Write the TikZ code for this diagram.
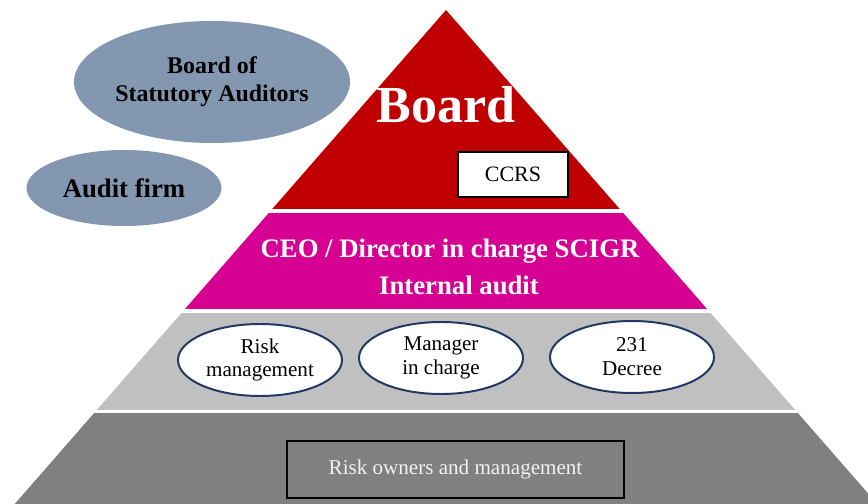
\documentclass[tikz,border=0pt]{standalone}
\usepackage{fontspec}
\setmainfont{Liberation Serif}
\usetikzlibrary{shapes.geometric}
\definecolor{boardred}{HTML}{C00000}
\definecolor{ceopink}{HTML}{D60093}
\definecolor{midgrey}{HTML}{C0C0C0}
\definecolor{lowgrey}{HTML}{808080}
\definecolor{auditblue}{HTML}{8497B0}
\definecolor{rimnavy}{HTML}{1F3864}
\tikzset{
	auditoval/.style={ellipse, fill=auditblue, inner sep=0pt, align=center, font=\bfseries},
	unitoval/.style={ellipse, draw=rimnavy, line width=1.4pt, fill=white, minimum width=164*0.025cm, minimum height=72*0.025cm, inner sep=0pt, align=center, font=\fontsize{15}{17}\selectfont},
	bandtext/.style={text=white, font=\bfseries\fontsize{19}{20}\selectfont, anchor=base}
}

\begin{document}
\begin{tikzpicture}[x=0.025cm, y=-0.025cm]
			%%%%% START %%%%%
			\useasboundingbox (0, 0) rectangle (868, 504);
			
			% pyramid, cut into four bands
			\begin{scope}
				\clip (446, 10) -- (877.3, 504) -- (14.7, 504) -- cycle;
				\fill[boardred] (0, 0) rectangle (868, 209);
				\fill[ceopink] (0, 213) rectangle (868, 309);
				\fill[midgrey] (0, 313) rectangle (868, 410);
				\fill[lowgrey] (0, 413) rectangle (868, 504);
			\end{scope}
			
			\node[auditoval, minimum width=276*0.025cm, minimum height=122*0.025cm, font=\bfseries\fontsize{17}{20}\selectfont] (statutory) at (212, 82) {Board of\\Statutory Auditors};
			\node[auditoval, minimum width=195*0.025cm, minimum height=76*0.025cm, font=\bfseries\fontsize{19}{20}\selectfont] (auditfirm) at (124, 188) {Audit firm};
			
			\node[text=white, font=\bfseries\fontsize{37}{40}\selectfont, anchor=base] (board) at (446, 123) {Board};
			\node[draw=black, line width=1pt, fill=white, minimum width=110*0.025cm, minimum height=45*0.025cm, inner sep=0pt, font=\fontsize{15.6}{18}\selectfont] (ccrs) at (513, 174.5) {CCRS};
			
			\node[bandtext] (ceo) at (450, 258) {CEO / Director in charge SCIGR};
			\node[bandtext] (internal) at (459, 295) {Internal audit};
			
			\node[unitoval] (risk) at (260, 360) {Risk\\management};
			\node[unitoval] (manager) at (441, 358) {Manager\\in charge};
			\node[unitoval] (decree) at (632, 357) {231\\Decree};
			
			\node[draw=black, line width=1pt, minimum width=337*0.025cm, minimum height=57*0.025cm, inner sep=0pt, text=white!95!black, font=\fontsize{15}{17}\selectfont] (owners) at (455.5, 469.5) {Risk owners and management};
			%%%%% END %%%%%
		\end{tikzpicture}
\end{document}
